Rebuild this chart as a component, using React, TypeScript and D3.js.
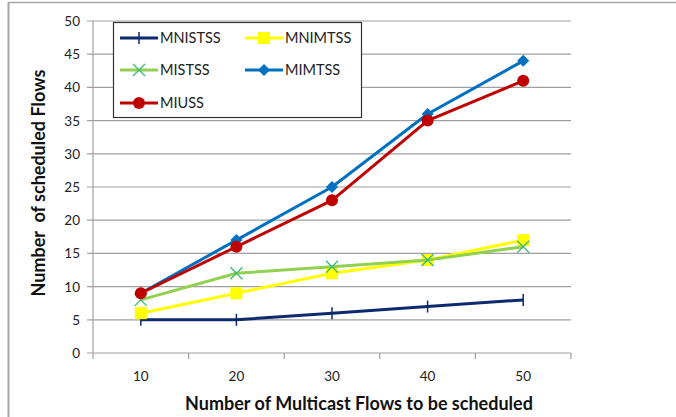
import * as d3 from "d3";

const categories = ["10", "20", "30", "40", "50"];
const yTicks = [0, 5, 10, 15, 20, 25, 30, 35, 40, 45, 50];

const mnistss = [5, 5, 6, 7, 8];
const mnimtss = [6, 9, 12, 14, 17];
const mistss = [8, 12, 13, 14, 16];
const mimtss = [9, 17, 25, 36, 44];
const miuss = [9, 16, 23, 35, 41];

type Marker = "plus" | "square" | "x" | "diamond" | "circle";

const series: { name: string; values: number[]; color: string; markColor: string; marker: Marker }[] = [
  { name: "MNISTSS", values: mnistss, color: "#0d2a6e", markColor: "#0d2a6e", marker: "plus" },
  { name: "MNIMTSS", values: mnimtss, color: "#ffff00", markColor: "#ffff00", marker: "square" },
  { name: "MISTSS", values: mistss, color: "#92d050", markColor: "#3cb878", marker: "x" },
  { name: "MIMTSS", values: mimtss, color: "#0070c0", markColor: "#0070c0", marker: "diamond" },
  { name: "MIUSS", values: miuss, color: "#c00000", markColor: "#c00000", marker: "circle" },
];

const font = "Lato, 'Open Sans', sans-serif";

function MarkerShape({ type, x, y, color }: { type: Marker; x: number; y: number; color: string }) {
  switch (type) {
    case "plus":
      return <line x1={x} x2={x} y1={y - 6} y2={y + 6} stroke={color} strokeWidth={1.5} />;
    case "square":
      return <rect x={x - 6} y={y - 6} width={12} height={12} fill={color} />;
    case "x":
      return (
        <g stroke={color} strokeWidth={1.3}>
          <line x1={x - 6} x2={x + 6} y1={y - 6} y2={y + 6} />
          <line x1={x - 6} x2={x + 6} y1={y + 6} y2={y - 6} />
        </g>
      );
    case "diamond":
      return <path d={`M${x},${y - 6}L${x + 6},${y}L${x},${y + 6}L${x - 6},${y}Z`} fill={color} />;
    case "circle":
      return <circle cx={x} cy={y} r={6} fill={color} />;
  }
}

export default function App() {
  const width = 676;
  const height = 417;
  const plot = { left: 93, right: 571, top: 21, bottom: 353 };

  const x = d3.scaleBand().domain(categories).range([plot.left, plot.right]);
  const y = d3.scaleLinear().domain([0, 50]).range([plot.bottom, plot.top]);
  const cx = (c: string) => (x(c) ?? 0) + x.bandwidth() / 2;

  const line = d3
    .line<number>()
    .x((_, i) => cx(categories[i]))
    .y((d) => y(d));

  const boundaries = [...categories.map((c) => x(c) ?? 0), plot.right];

  const legendItems = [
    { s: series[0], lx: 120, ly: 38 },
    { s: series[1], lx: 245, ly: 38 },
    { s: series[2], lx: 120, ly: 70 },
    { s: series[3], lx: 245, ly: 70 },
    { s: series[4], lx: 120, ly: 103 },
  ];

  return (
    <svg
      width={width}
      height={height}
      style={{ position: "absolute", left: 0, top: 0, background: "#fff" }}
      fontFamily={font}
    >
      <line x1={8.5} x2={8.5} y1={2} y2={height} stroke="#a6a6a6" strokeWidth={2} />
      <line x1={8} x2={width} y1={2.5} y2={2.5} stroke="#a6a6a6" strokeWidth={1.5} />

      {yTicks.map((t) => (
        <g key={t}>
          <line x1={plot.left - 6} x2={plot.right} y1={y(t)} y2={y(t)} stroke="#a0a0a0" strokeWidth={1.2} />
          <text x={80} y={y(t) + 5} textAnchor="end" fontSize={13.5} fill="#222">
            {t}
          </text>
        </g>
      ))}
      <line x1={plot.left} x2={plot.left} y1={plot.top} y2={plot.bottom} stroke="#a0a0a0" strokeWidth={1.2} />
      {boundaries.map((b, i) => (
        <line key={i} x1={b} x2={b} y1={plot.bottom} y2={plot.bottom + 6} stroke="#a0a0a0" strokeWidth={1.2} />
      ))}
      {categories.map((c) => (
        <text key={c} x={cx(c)} y={381} textAnchor="middle" fontSize={13.5} fill="#222">
          {c}
        </text>
      ))}

      <text x={359} y={410} textAnchor="middle" fontSize={18} fontWeight="bold" fill="#111">
        Number of Multicast Flows to be scheduled
      </text>
      <text
        transform={`translate(45,183) rotate(-90)`}
        textAnchor="middle"
        fontSize={18}
        fontWeight="bold"
        fill="#111"
        style={{ whiteSpace: "pre" }}
      >
        {"Number  of scheduled Flows"}
      </text>

      {series.map((s) => (
        <g key={s.name}>
          <path d={line(s.values) ?? ""} fill="none" stroke={s.color} strokeWidth={3} strokeLinejoin="round" />
          {s.values.map((v, i) => (
            <MarkerShape key={i} type={s.marker} x={cx(categories[i])} y={y(v)} color={s.markColor} />
          ))}
        </g>
      ))}

      <rect x={113.5} y={22.5} width={248} height={95} fill="#fff" stroke="#333" strokeWidth={1.2} />
      {legendItems.map(({ s, lx, ly }) => (
        <g key={s.name}>
          <line x1={lx} x2={lx + 38} y1={ly} y2={ly} stroke={s.color} strokeWidth={3} />
          <MarkerShape type={s.marker} x={lx + 19} y={ly} color={s.markColor} />
          <text x={lx + 40} y={ly + 5} fontSize={14.5} fill="#222">
            {s.name}
          </text>
        </g>
      ))}
    </svg>
  );
}
